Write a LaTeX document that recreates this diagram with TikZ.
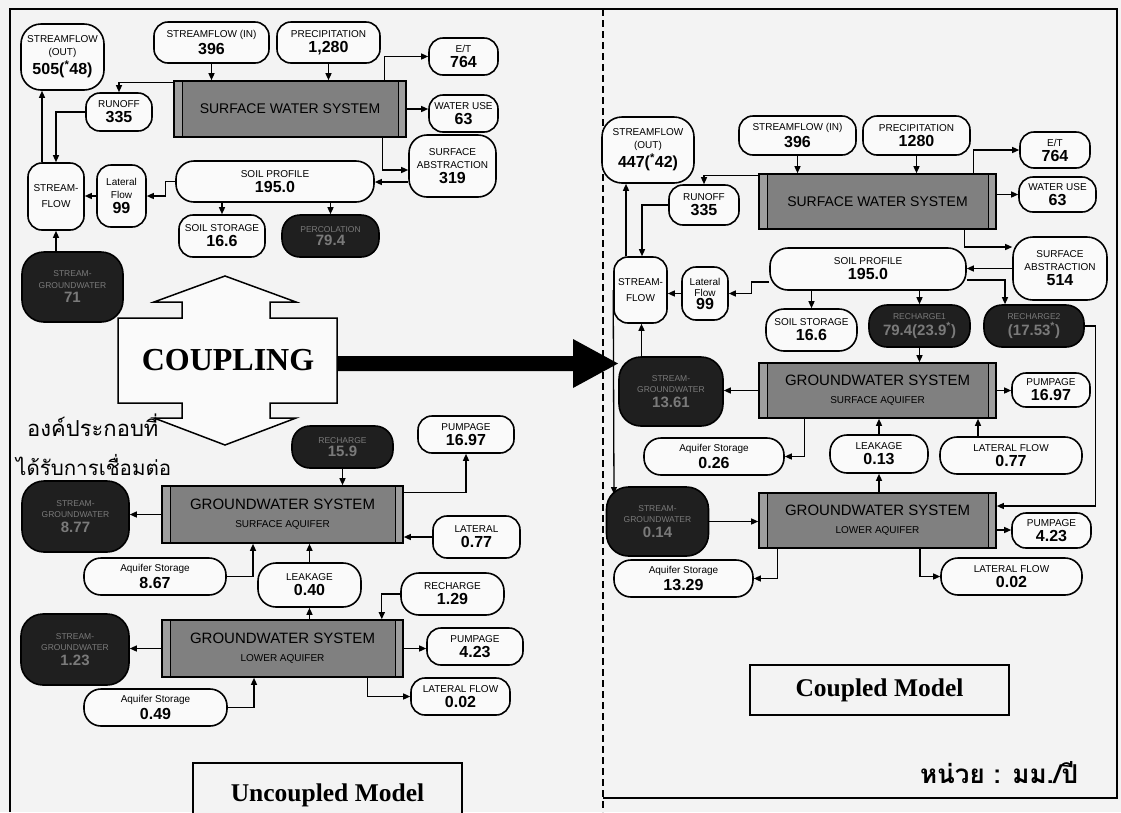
\documentclass[tikz,border=0pt]{standalone}
\usepackage{fontspec}
\setmainfont{Liberation Serif}
\newfontfamily\arial{Liberation Sans}
\newfontfamily\thaifont[Script=Thai]{Loma}
\usetikzlibrary{arrows.meta,calc}
\definecolor{paper}{RGB}{243,243,243}
\definecolor{boxfill}{RGB}{250,250,250}
\newcommand{\lb}[1]{{\fontsize{10}{12}\selectfont #1}}
\newcommand{\nm}[1]{{\fontsize{16}{17}\selectfont\bfseries #1}}
\newcommand{\dl}[1]{{\fontsize{8.5}{10}\selectfont #1}}
\newcommand{\dn}[1]{{\fontsize{15}{16}\selectfont\bfseries #1}}
\tikzset{
  wbox/.style={draw, line width=1.6pt, rounded corners=14pt, fill=boxfill, inner sep=0pt,
    align=center, font=\arial\fontsize{10}{13}\selectfont},
  dbox/.style={wbox, fill=black!88, text=black!52, rounded corners=22pt, font=\arial\fontsize{8.5}{11.5}\selectfont},
  sysbox/.style={draw, line width=1.6pt, fill=black!50, inner sep=0pt, align=center,
    font=\arial\fontsize{10}{18}\selectfont,
    path picture={
      \fill[black!38] (path picture bounding box.south west) rectangle ([xshift=8pt]path picture bounding box.north west);
      \fill[black!38] (path picture bounding box.south east) rectangle ([xshift=-8pt]path picture bounding box.north east);
      \draw[line width=0.9pt] ([xshift=8pt]path picture bounding box.south west) -- ([xshift=8pt]path picture bounding box.north west);
      \draw[line width=0.9pt] ([xshift=-8pt]path picture bounding box.south east) -- ([xshift=-8pt]path picture bounding box.north east);
    }},
  arr/.style={line width=1.3pt, -{Triangle[length=7pt,width=6pt]}},
  frame/.style={line width=1.4pt},
  title/.style={draw, line width=1.4pt, fill=paper, inner sep=0pt, font=\bfseries\fontsize{25.5}{28}\selectfont}
}
\begin{document}
\begin{tikzpicture}[x=1pt,y=-1pt]
\useasboundingbox (0,0) rectangle (1121,812);
\fill[paper] (0,0) rectangle (1121,812);
\draw[frame] (10,812) -- (10,9) -- (1117,9) -- (1117,798) -- (603,798);
\draw[line width=1.8pt, dash pattern=on 7pt off 4pt] (603,9) -- (603,812);

% ================= LEFT: UNCOUPLED MODEL =================
\node[wbox, rounded corners=20pt, minimum width=83pt, minimum height=66pt] (sfoutL) at (62.5,57) {\lb{STREAMFLOW}\\\lb{(OUT)}\\[2pt]\nm{505(\textsuperscript{*}48)}};
\node[wbox, minimum width=115pt, minimum height=41pt] (sfinL) at (211.5,42.5) {\lb{STREAMFLOW (IN)}\\[2pt]\nm{396}};
\node[wbox, minimum width=103pt, minimum height=41pt] (precL) at (328.5,42.5) {\lb{PRECIPITATION}\\[2pt]\nm{1,280}};
\node[wbox, minimum width=69pt, minimum height=37pt] (etL) at (463.5,56.5) {\lb{E/T}\\[2pt]\nm{764}};
\node[wbox, minimum width=69pt, minimum height=37pt] (wuL) at (463.5,113.5) {\lb{WATER USE}\\[2pt]\nm{63}};
\node[sysbox, minimum width=232pt, minimum height=56pt] (swsL) at (290,109) {\fontsize{14}{16}\selectfont SURFACE WATER SYSTEM};
\node[wbox, minimum width=66pt, minimum height=38pt] (roL) at (119,112) {\lb{RUNOFF}\\[2pt]\nm{335}};
\node[wbox, rounded corners=18pt, minimum width=87pt, minimum height=62pt] (saL) at (452.5,166) {\lb{SURFACE}\\\lb{ABSTRACTION}\\[2pt]\nm{319}};
\node[wbox, rounded corners=18pt, minimum width=198pt, minimum height=41pt] (spL) at (275,181.5) {\lb{SOIL PROFILE}\\[2pt]\nm{195.0}};
\node[wbox, minimum width=49pt, minimum height=62pt] (lfL) at (121.5,196) {\lb{Lateral}\\\lb{Flow}\\[2pt]\nm{99}};
\node[wbox, minimum width=56pt, minimum height=67pt] (sfL) at (56,196.5) {\lb{STREAM-}\\[3pt]\lb{FLOW}};
\node[wbox, minimum width=86pt, minimum height=42pt] (ssL) at (222,236) {\lb{SOIL STORAGE}\\[2pt]\nm{16.6}};
\node[dbox, rounded corners=18pt, minimum width=97pt, minimum height=42pt] (pcL) at (330.5,236) {\dl{PERCOLATION}\\[2pt]\dn{79.4}};
\node[dbox, minimum width=101pt, minimum height=70pt] (sg71) at (72.5,287) {\dl{STREAM-}\\\dl{GROUNDWATER}\\[3pt]\dn{71}};

\draw[arr] (sfinL.south) -- (sfinL.south |- swsL.north);
\draw[arr] (precL.south) -- (precL.south |- swsL.north);
\draw[arr] ([xshift=-22pt]swsL.north east) |- (etL.west);
\draw[arr] (swsL.east) -- (swsL.east -| wuL.west);
\draw[arr] ([xshift=-24pt]swsL.south east) |- ([yshift=-4pt]saL.west);
\draw[arr] ([yshift=-16pt]saL.west) -- ([yshift=-16pt]saL.west -| spL.east);
\draw[arr] ([yshift=-2pt]swsL.north west) -| (roL.north);
\draw[arr] (roL.west) -| (sfL.north);
\draw[arr] ([xshift=-14pt]sfL.north) -- ([xshift=-14pt]sfL.north |- sfoutL.south);
\draw[arr] (spL.west) -- ++(-10,0) |- (lfL.east);
\draw[arr] (lfL.west) -- (lfL.west -| sfL.east);
\draw[arr] (ssL.north |- spL.south) -- (ssL.north);
\draw[arr] (pcL.north |- spL.south) -- (pcL.north);
\draw[arr] (sfL.south |- sg71.north) -- (sfL.south);

% COUPLING double arrow
\draw[line width=1.5pt, fill=boxfill] (225,276) -- (296,302) -- (270,302) -- (270,318) -- (337,318) -- (337,403) -- (270,403) -- (270,418) -- (296,418) -- (225,445) -- (154,418) -- (182,418) -- (182,403) -- (118,403) -- (118,318) -- (182,318) -- (182,302) -- (154,302) -- cycle;
\node[font=\bfseries\fontsize{32}{34}\selectfont] (coup) at (228,360) {COUPLING};
\fill[black] (337,356) -- (573,356) -- (573,339) -- (618,363.5) -- (573,388) -- (573,371) -- (337,371) -- cycle;

\node[font=\thaifont\fontsize{22}{24}\selectfont, anchor=west, inner sep=0pt] (th1) at (27,425) {องค์ประกอบที่};
\node[font=\thaifont\fontsize{20.5}{24}\selectfont, anchor=west, inner sep=0pt] (th2) at (16,465) {ได้รับการเชื่อมต่อ};

% groundwater (uncoupled)
\node[dbox, rounded corners=18pt, minimum width=101pt, minimum height=42pt] (rc159) at (342.5,447) {\dl{RECHARGE}\\[2pt]\dn{15.9}};
\node[wbox, minimum width=96pt, minimum height=37pt] (pu1697L) at (466,434.5) {\lb{PUMPAGE}\\[2pt]\nm{16.97}};
\node[sysbox, minimum width=241pt, minimum height=57pt] (gwsL1) at (282.5,514.5) {\fontsize{15}{17}\selectfont GROUNDWATER SYSTEM\\\lb{SURFACE AQUIFER}};
\node[dbox, minimum width=107pt, minimum height=71pt] (sg877) at (75.5,516.5) {\dl{STREAM-}\\\dl{GROUNDWATER}\\[3pt]\dn{8.77}};
\node[wbox, minimum width=87pt, minimum height=42pt] (lat077L) at (476.5,537) {\lb{LATERAL}\\[2pt]\nm{0.77}};
\node[wbox, rounded corners=17pt, minimum width=142pt, minimum height=37pt] (as867) at (155,576.5) {\lb{Aquifer Storage}\\[2pt]\nm{8.67}};
\node[wbox, rounded corners=18pt, minimum width=103pt, minimum height=44pt] (lk040) at (309.5,585) {\lb{LEAKAGE}\\[2pt]\nm{0.40}};
\node[wbox, rounded corners=18pt, minimum width=103pt, minimum height=42pt] (rc129) at (452.5,594) {\lb{RECHARGE}\\[2pt]\nm{1.29}};
\node[sysbox, minimum width=241pt, minimum height=57pt] (gwsL2) at (282.5,648.5) {\fontsize{15}{17}\selectfont GROUNDWATER SYSTEM\\\lb{LOWER AQUIFER}};
\node[dbox, minimum width=108pt, minimum height=71pt] (sg123) at (75,649.5) {\dl{STREAM-}\\\dl{GROUNDWATER}\\[3pt]\dn{1.23}};
\node[wbox, minimum width=96pt, minimum height=37pt] (pu423L) at (475,646.5) {\lb{PUMPAGE}\\[2pt]\nm{4.23}};
\node[wbox, minimum width=99pt, minimum height=37pt] (lf002L) at (460.5,696.5) {\lb{LATERAL FLOW}\\[2pt]\nm{0.02}};
\node[wbox, rounded corners=17pt, minimum width=143pt, minimum height=37pt] (as049) at (155.5,707.5) {\lb{Aquifer Storage}\\[2pt]\nm{0.49}};

\draw[arr] (rc159.south) -- (rc159.south |- gwsL1.north);
\draw[arr] ([yshift=-7pt]gwsL1.north east) -| (pu1697L.south);
\draw[arr] (gwsL1.west) -- (gwsL1.west -| sg877.east);
\draw[arr] (lat077L.west) -- (lat077L.west -| gwsL1.east);
\draw[arr] (as867.east) -| ([xshift=-29.5pt]gwsL1.south);
\draw[arr] (lk040.north) -- (lk040.north |- gwsL1.south);
\draw[arr] (lk040.south |- gwsL2.north) -- (lk040.south);
\draw[arr] (rc129.west) -| ([xshift=-22pt]gwsL2.north east);
\draw[arr] (gwsL2.west) -- (gwsL2.west -| sg123.east);
\draw[arr] (gwsL2.east) -- (gwsL2.east -| pu423L.west);
\draw[arr] ([xshift=-36pt]gwsL2.south east) |- (lf002L.west);
\draw[arr] (as049.east) -| ([xshift=-28.5pt]gwsL2.south);

\node[title, minimum width=269pt, minimum height=64pt] (ucm) at (327.5,795) {Uncoupled Model};

% ================= RIGHT: COUPLED MODEL =================
\node[wbox, rounded corners=20pt, minimum width=92pt, minimum height=66pt] (sfoutR) at (648,150) {\lb{STREAMFLOW}\\\lb{(OUT)}\\[2pt]\nm{447(\textsuperscript{*}42)}};
\node[wbox, minimum width=117pt, minimum height=39pt] (sfinR) at (797.5,135.5) {\lb{STREAMFLOW (IN)}\\[2pt]\nm{396}};
\node[wbox, minimum width=107pt, minimum height=39pt] (precR) at (916.5,135.5) {\lb{PRECIPITATION}\\[2pt]\nm{1280}};
\node[wbox, minimum width=70pt, minimum height=36pt] (etR) at (1055,150) {\lb{E/T}\\[2pt]\nm{764}};
\node[wbox, minimum width=77pt, minimum height=35pt] (wuR) at (1057.5,194.5) {\lb{WATER USE}\\[2pt]\nm{63}};
\node[sysbox, minimum width=237pt, minimum height=55pt] (swsR) at (877.5,201.5) {\fontsize{14}{16}\selectfont SURFACE WATER SYSTEM};
\node[wbox, minimum width=70pt, minimum height=40pt] (roR) at (704,205) {\lb{RUNOFF}\\[2pt]\nm{335}};
\node[wbox, rounded corners=20pt, minimum width=94pt, minimum height=63pt] (saR) at (1060,268.5) {\lb{SURFACE}\\\lb{ABSTRACTION}\\[2pt]\nm{514}};
\node[wbox, rounded corners=18pt, minimum width=196pt, minimum height=42pt] (spR) at (868,269) {\lb{SOIL PROFILE}\\[2pt]\nm{195.0}};
\node[wbox, minimum width=46pt, minimum height=53pt, font=\arial\fontsize{10}{11.5}\selectfont] (lfR) at (705,293.5) {\lb{Lateral}\\\lb{Flow}\\[1pt]\nm{99}};
\node[wbox, minimum width=53pt, minimum height=66pt] (sfR) at (640.5,290) {\lb{STREAM-}\\[3pt]\lb{FLOW}};
\node[wbox, rounded corners=18pt, minimum width=91pt, minimum height=42pt] (ssR) at (811.5,330) {\lb{SOIL STORAGE}\\[2pt]\nm{16.6}};
\node[dbox, rounded corners=18pt, minimum width=101pt, minimum height=42pt] (rc1R) at (919.5,326) {\dl{RECHARGE1}\\[2pt]\dn{79.4(23.9\textsuperscript{*})}};
\node[dbox, rounded corners=18pt, minimum width=100pt, minimum height=42pt] (rc2R) at (1034,326) {\dl{RECHARGE2}\\[2pt]\dn{(17.53\textsuperscript{*})}};
\node[dbox, minimum width=104pt, minimum height=69pt] (sg1361) at (671,391.5) {\dl{STREAM-}\\\dl{GROUNDWATER}\\[3pt]\dn{13.61}};
\node[sysbox, minimum width=237pt, minimum height=55pt] (gwsR1) at (877.5,390.5) {\fontsize{15}{17}\selectfont GROUNDWATER SYSTEM\\\lb{SURFACE AQUIFER}};
\node[wbox, minimum width=78pt, minimum height=34pt] (pu1697R) at (1051,390) {\lb{PUMPAGE}\\[2pt]\nm{16.97}};
\node[wbox, rounded corners=17pt, minimum width=140pt, minimum height=37pt] (as026) at (714,456.5) {\lb{Aquifer Storage}\\[2pt]\nm{0.26}};
\node[wbox, rounded corners=17pt, minimum width=98pt, minimum height=38pt] (lk013) at (879,454) {\lb{LEAKAGE}\\[2pt]\nm{0.13}};
\node[wbox, rounded corners=17pt, minimum width=142pt, minimum height=37pt] (lat077R) at (1011,455.5) {\lb{LATERAL FLOW}\\[2pt]\nm{0.77}};
\node[dbox, minimum width=102pt, minimum height=69pt] (sg014) at (657.5,521.5) {\dl{STREAM-}\\\dl{GROUNDWATER}\\[3pt]\dn{0.14}};
\node[sysbox, minimum width=237pt, minimum height=55pt] (gwsR2) at (877.5,520.5) {\fontsize{15}{17}\selectfont GROUNDWATER SYSTEM\\\lb{LOWER AQUIFER}};
\node[wbox, minimum width=79pt, minimum height=35pt] (pu423R) at (1051.5,530.5) {\lb{PUMPAGE}\\[2pt]\nm{4.23}};
\node[wbox, rounded corners=17pt, minimum width=139pt, minimum height=37pt] (as1329) at (683.5,578.5) {\lb{Aquifer Storage}\\[2pt]\nm{13.29}};
\node[wbox, rounded corners=17pt, minimum width=141pt, minimum height=37pt] (lf002R) at (1011.5,576.5) {\lb{LATERAL FLOW}\\[2pt]\nm{0.02}};
\coordinate (in014) at (614,494);

\draw[arr] (sfinR.south) -- (sfinR.south |- swsR.north);
\draw[arr] (precR.south) -- (precR.south |- swsR.north);
\draw[arr] ([xshift=-23pt]swsR.north east) |- (etR.west);
\draw[arr] ([yshift=7pt]swsR.east) -- (wuR.west);
\draw[arr] ([xshift=-32pt]swsR.south east) |- ([yshift=21.5pt]saR.west);
\draw[arr] (saR.west) -- (saR.west -| spR.east);
\draw[arr] ([yshift=-2pt]swsR.north west) -| (roR.north);
\draw[arr] (roR.west) -| ([xshift=1.5pt]sfR.north);
\draw[arr] ([xshift=-14.5pt]sfR.north) -- ([xshift=-14.5pt]sfR.north |- sfoutR.south);
\draw[arr] ([yshift=-13pt]spR.west) -- ++(-18,0) |- (lfR.east);
\draw[arr] (lfR.west) -- (lfR.west -| sfR.east);
\draw[arr] (ssR.north |- spR.south) -- (ssR.north);
\draw[arr] (rc1R.north |- spR.south) -- (rc1R.north);
\draw[arr] ([yshift=-11pt]spR.east) -| ([xshift=-29pt]rc2R.north);
\draw[arr] (rc1R.south) -- (rc1R.south |- gwsR1.north);
\draw[arr] (rc2R.east) -- ++(11,0) |- ([yshift=14.5pt]gwsR2.east);
\draw[arr] (gwsR1.west) -- (gwsR1.west -| sg1361.east);
\draw[arr] (gwsR1.east) -- (gwsR1.east -| pu1697R.west);
\draw[arr] ([xshift=1pt]sfR.south |- sg1361.north) -- ([xshift=1pt]sfR.south);
\draw[arr] ([xshift=46pt]gwsR1.south west) |- (as026.east);
\draw[arr] (lk013.north) -- (lk013.north |- gwsR1.south);
\draw[arr] ([xshift=-33pt]lat077R.north) -- ([xshift=-33pt]lat077R.north |- gwsR1.south);
\draw[arr] (lk013.south |- gwsR2.north) -- (lk013.south);
\draw[arr] (sg014.east) -- (sg014.east -| gwsR2.west);
\draw[arr] ([yshift=-9.5pt]gwsR2.east) -- ([yshift=-9.5pt]gwsR2.east -| pu423R.west);
\draw[arr] ([xshift=19pt]gwsR2.south west) |- (as1329.east);
\draw[arr] ([xshift=42.5pt]gwsR2.south) |- (lf002R.west);
\draw[arr] (sfR.west) -- (in014);

\node[title, minimum width=259pt, minimum height=50pt] (cm) at (879.5,690) {Coupled Model};
\node[font=\thaifont\bfseries\fontsize{26}{28}\selectfont, inner sep=0pt] (unit) at (999,773) {หน่วย : มม./ปี};
\end{tikzpicture}
\end{document}
